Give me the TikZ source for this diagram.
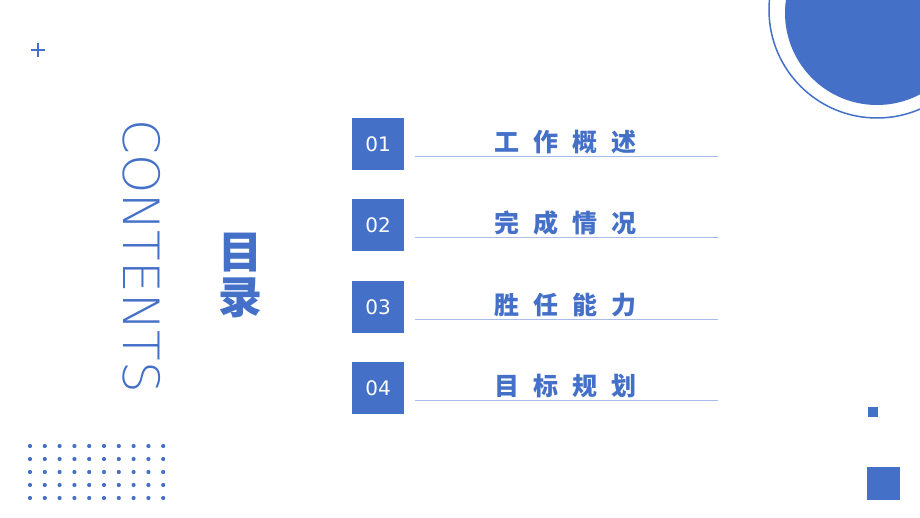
\documentclass[tikz,border=0pt]{standalone}
\usepackage{fontspec}
\setsansfont{DejaVu Sans}
\newfontfamily\cjk{Noto Sans CJK SC}
\newfontfamily\thin{DejaVu Sans ExtraLight}
\definecolor{mb}{HTML}{4470C8}
\definecolor{lb}{HTML}{A9BCE8}
\begin{document}
\begin{tikzpicture}[x=1pt,y=-1pt,
  numbox/.style={fill=mb,minimum width=52pt,minimum height=52pt,inner sep=0pt,text=white,font=\sffamily\fontsize{20}{20}\selectfont},
  item/.style={text=mb,font=\cjk\bfseries\fontsize{25}{25}\selectfont},
  big/.style={text=mb,font=\cjk\bfseries\fontsize{44}{44}\selectfont,inner sep=0pt}]
\useasboundingbox (0,0) rectangle (920,518);
\fill[white] (0,0) rectangle (920,518);
\begin{scope}
\clip (0,0) rectangle (920,518);
\fill[mb] (877,13) circle (92);
\draw[mb,line width=1.5pt] (877,10) circle (108);
\end{scope}
\draw[mb,line width=2pt] (31,50) -- (45,50) (38,43) -- (38,57);
\foreach \i in {0,...,9}\foreach \j in {0,...,4}
  \fill[mb] (30+14.8*\i,446+13*\j) circle (2.1);
\fill[mb] (868,407) rectangle (878,417);
\fill[mb] (867,467) rectangle (900,500);
\node[text=mb,rotate=-90,font=\thin\fontsize{50}{50}\selectfont] (ct) at (142,256) {CONTENTS};
\node[big] (m1) at (240,253) {目};
\node[big] (m2) at (240,298) {录};
\foreach \n/\t/\y [count=\k] in {01/工\hspace{14pt}作\hspace{14pt}概\hspace{14pt}述/118,02/完\hspace{14pt}成\hspace{14pt}情\hspace{14pt}况/199,03/胜\hspace{14pt}任\hspace{14pt}能\hspace{14pt}力/281,04/目\hspace{14pt}标\hspace{14pt}规\hspace{14pt}划/362}{
  \node[numbox] (b\k) at (378,\y+26) {\n};
  \coordinate (l\k) at (415,\y+38);
  \coordinate (r\k) at (718,\y+38);
  \draw[lb,line width=0.8pt] (l\k) -- (r\k);
  \node[item] (t\k) at (565,\y+24) {\t};
}
\end{tikzpicture}
\end{document}
